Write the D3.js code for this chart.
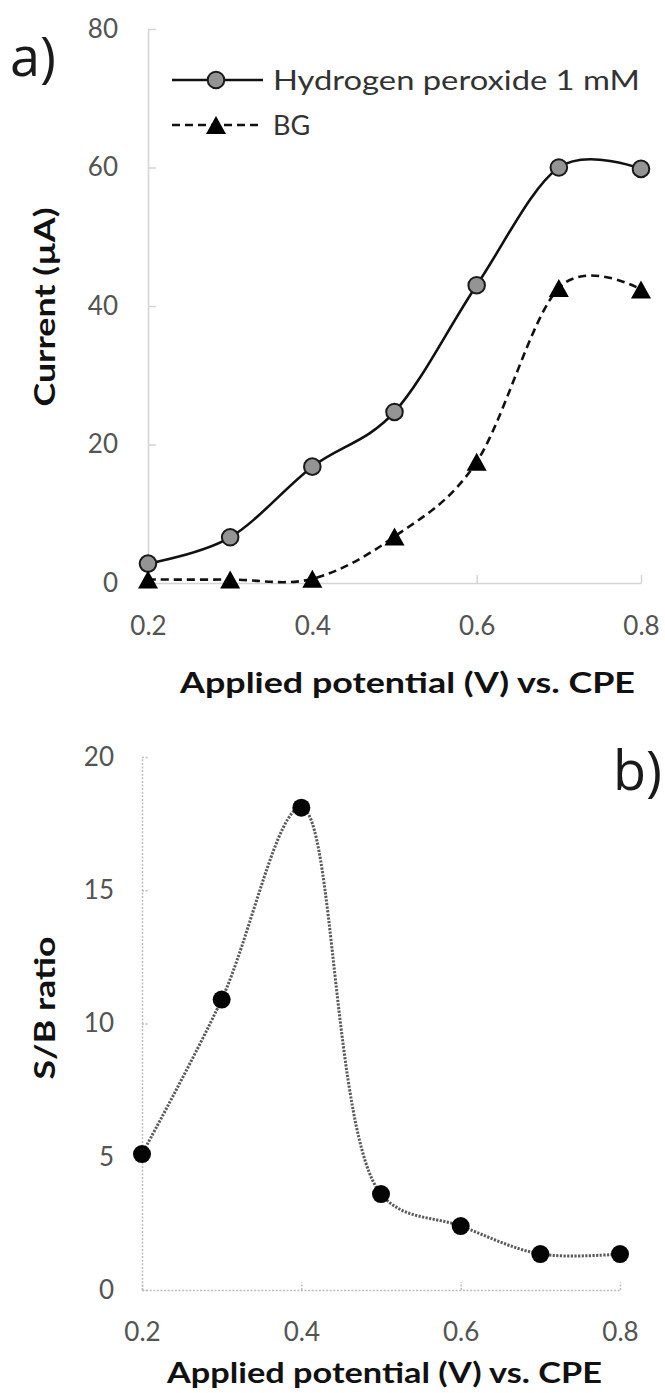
<!DOCTYPE html>
<html>
<head>
<meta charset="utf-8">
<script src="https://cdn.jsdelivr.net/npm/d3@7"></script>
<style>
  html, body { margin: 0; padding: 0; background: #fff; }
  svg { display: block; }
</style>
</head>
<body>
<svg id="fig" width="665" height="1393"></svg>
<script>
// Applied potential (V vs. CPE)
const potential = [0.2, 0.3, 0.4, 0.5, 0.6, 0.7, 0.8];
// Current (µA) for 1 mM hydrogen peroxide and for the background
const h2o2Current = [2.8, 6.6, 16.8, 24.7, 43.0, 60.0, 59.8];
const bgCurrent = [0.5, 0.5, 0.6, 6.7, 17.5, 42.6, 42.4];
// Signal-to-background ratio
const sbRatio = [5.1, 10.9, 18.1, 3.6, 2.4, 1.35, 1.35];

const xTicks = [0.2, 0.4, 0.6, 0.8];
const currentTicks = [0, 20, 40, 60, 80];
const ratioTicks = [0, 5, 10, 15, 20];
const seriesNames = ["Hydrogen peroxide 1 mM", "BG"];

const svg = d3.select("#fig");
const FONT = "Lato, 'Open Sans', sans-serif";
const TICK_COLOR = "#545454";

const fmtX = d3.format(".1f");

// triangle marker centred on its bounding box
function triPath(w, h) {
  return `M0,${-h / 2}L${w / 2},${h / 2}L${-w / 2},${h / 2}Z`;
}

function styleAxis(g, dotted) {
  g.selectAll("path.domain, .tick line")
    .attr("stroke", dotted ? "#bdbdbd" : "#d4d4d4")
    .attr("stroke-width", 1.5)
    .attr("stroke-dasharray", dotted ? "2,1.6" : null);
  g.selectAll(".tick text")
    .attr("fill", TICK_COLOR)
    .style("font-family", FONT)
    .style("font-size", "26px");
}

// ---------- panel a: current vs potential ----------
const xA = d3.scaleLinear().domain([0.2, 0.8]).range([148, 641]);
const yA = d3.scaleLinear().domain([0, 80]).range([583, 29]);

svg.append("g")
  .attr("transform", `translate(0,${yA(0)})`)
  .call(d3.axisBottom(xA).tickValues(xTicks).tickFormat(fmtX)
    .tickSizeInner(-8).tickSizeOuter(0).tickPadding(34))
  .call(g => styleAxis(g, false));

svg.append("g")
  .attr("transform", `translate(${xA(0.2)},0)`)
  .call(d3.axisLeft(yA).tickValues(currentTicks)
    .tickSizeInner(-8).tickSizeOuter(0).tickPadding(30))
  .call(g => styleAxis(g, false));

const lineA = (vals) => d3.line()
  .x((d, i) => xA(potential[i]))
  .y(d => yA(d))
  .curve(d3.curveCatmullRom.alpha(0))(vals);

// hydrogen peroxide series
svg.append("path")
  .attr("d", lineA(h2o2Current))
  .attr("fill", "none").attr("stroke", "#111").attr("stroke-width", 2.6);
svg.append("g").selectAll("circle")
  .data(h2o2Current).join("circle")
  .attr("cx", (d, i) => xA(potential[i]))
  .attr("cy", d => yA(d))
  .attr("r", 8.3)
  .attr("fill", "#949494").attr("stroke", "#1a1a1a").attr("stroke-width", 2);

// background series
svg.append("path")
  .attr("d", lineA(bgCurrent))
  .attr("fill", "none").attr("stroke", "#111").attr("stroke-width", 2.6)
  .attr("stroke-dasharray", "8,5");
svg.append("g").selectAll("path")
  .data(bgCurrent).join("path")
  .attr("transform", (d, i) => `translate(${xA(potential[i])},${yA(d)})`)
  .attr("d", triPath(20, 18))
  .attr("fill", "#000");

// legend
const legend = svg.append("g");
[80, 125].forEach((ly, k) => {
  legend.append("line")
    .attr("x1", 172).attr("x2", 263).attr("y1", ly).attr("y2", ly)
    .attr("stroke", "#111").attr("stroke-width", 2.6)
    .attr("stroke-dasharray", k === 0 ? null : "8,5");
  if (k === 0) {
    legend.append("circle").attr("cx", 216).attr("cy", ly).attr("r", 8.3)
      .attr("fill", "#949494").attr("stroke", "#1a1a1a").attr("stroke-width", 2);
  } else {
    legend.append("path").attr("transform", `translate(216,${ly})`)
      .attr("d", triPath(20, 18)).attr("fill", "#000");
  }
  const t = legend.append("text")
    .attr("x", 273).attr("y", ly + 9.5)
    .attr("fill", "#333")
    .style("font-family", FONT).style("font-size", "27px")
    .text(seriesNames[k]);
  if (k === 0) t.attr("textLength", 367).attr("lengthAdjust", "spacingAndGlyphs");
});

// axis titles for panel a
svg.append("text")
  .attr("x", 180).attr("y", 693)
  .attr("textLength", 455).attr("lengthAdjust", "spacingAndGlyphs")
  .style("font-family", FONT).style("font-size", "29px").style("font-weight", "bold")
  .attr("fill", "#111")
  .text("Applied potential (V) vs. CPE");

svg.append("text")
  .attr("transform", "translate(55,307) rotate(-90)")
  .attr("text-anchor", "middle")
  .attr("textLength", 199).attr("lengthAdjust", "spacingAndGlyphs")
  .style("font-family", FONT).style("font-size", "29px").style("font-weight", "bold")
  .attr("fill", "#111")
  .text("Current (µA)");

svg.append("text")
  .attr("x", 10).attr("y", 76)
  .style("font-family", "'Open Sans', sans-serif").style("font-size", "54px")
  .attr("fill", "#1a1a1a")
  .text("a)");

// ---------- panel b: S/B ratio vs potential ----------
const xB = d3.scaleLinear().domain([0.2, 0.8]).range([142, 620]);
const yB = d3.scaleLinear().domain([0, 20]).range([1290, 757]);

svg.append("g")
  .attr("transform", `translate(0,${yB(0)})`)
  .call(d3.axisBottom(xB).tickValues(xTicks).tickFormat(fmtX)
    .tickSizeInner(-8).tickSizeOuter(0).tickPadding(33))
  .call(g => styleAxis(g, true));

svg.append("g")
  .attr("transform", `translate(${xB(0.2)},0)`)
  .call(d3.axisLeft(yB).tickValues(ratioTicks)
    .tickSizeInner(-6).tickSizeOuter(0).tickPadding(28))
  .call(g => styleAxis(g, true));

svg.append("path")
  .attr("d", d3.line()
    .x((d, i) => xB(potential[i]))
    .y(d => yB(d))
    .curve(d3.curveCatmullRom.alpha(0.5))(sbRatio))
  .attr("fill", "none").attr("stroke", "#5a5a5a").attr("stroke-width", 3)
  .attr("stroke-dasharray", "2.2,1.4");

svg.append("g").selectAll("circle")
  .data(sbRatio).join("circle")
  .attr("cx", (d, i) => xB(potential[i]))
  .attr("cy", d => yB(d))
  .attr("r", 9)
  .attr("fill", "#050505");

svg.append("text")
  .attr("x", 167).attr("y", 1383)
  .attr("textLength", 435).attr("lengthAdjust", "spacingAndGlyphs")
  .style("font-family", FONT).style("font-size", "29px").style("font-weight", "bold")
  .attr("fill", "#111")
  .text("Applied potential (V) vs. CPE");

svg.append("text")
  .attr("transform", "translate(55,1008) rotate(-90)")
  .attr("text-anchor", "middle")
  .attr("textLength", 143).attr("lengthAdjust", "spacingAndGlyphs")
  .style("font-family", FONT).style("font-size", "29px").style("font-weight", "bold")
  .attr("fill", "#111")
  .text("S/B ratio");

svg.append("text")
  .attr("x", 613).attr("y", 790)
  .style("font-family", "'Open Sans', sans-serif").style("font-size", "54px")
  .attr("fill", "#1a1a1a")
  .text("b)");
</script>
</body>
</html>
